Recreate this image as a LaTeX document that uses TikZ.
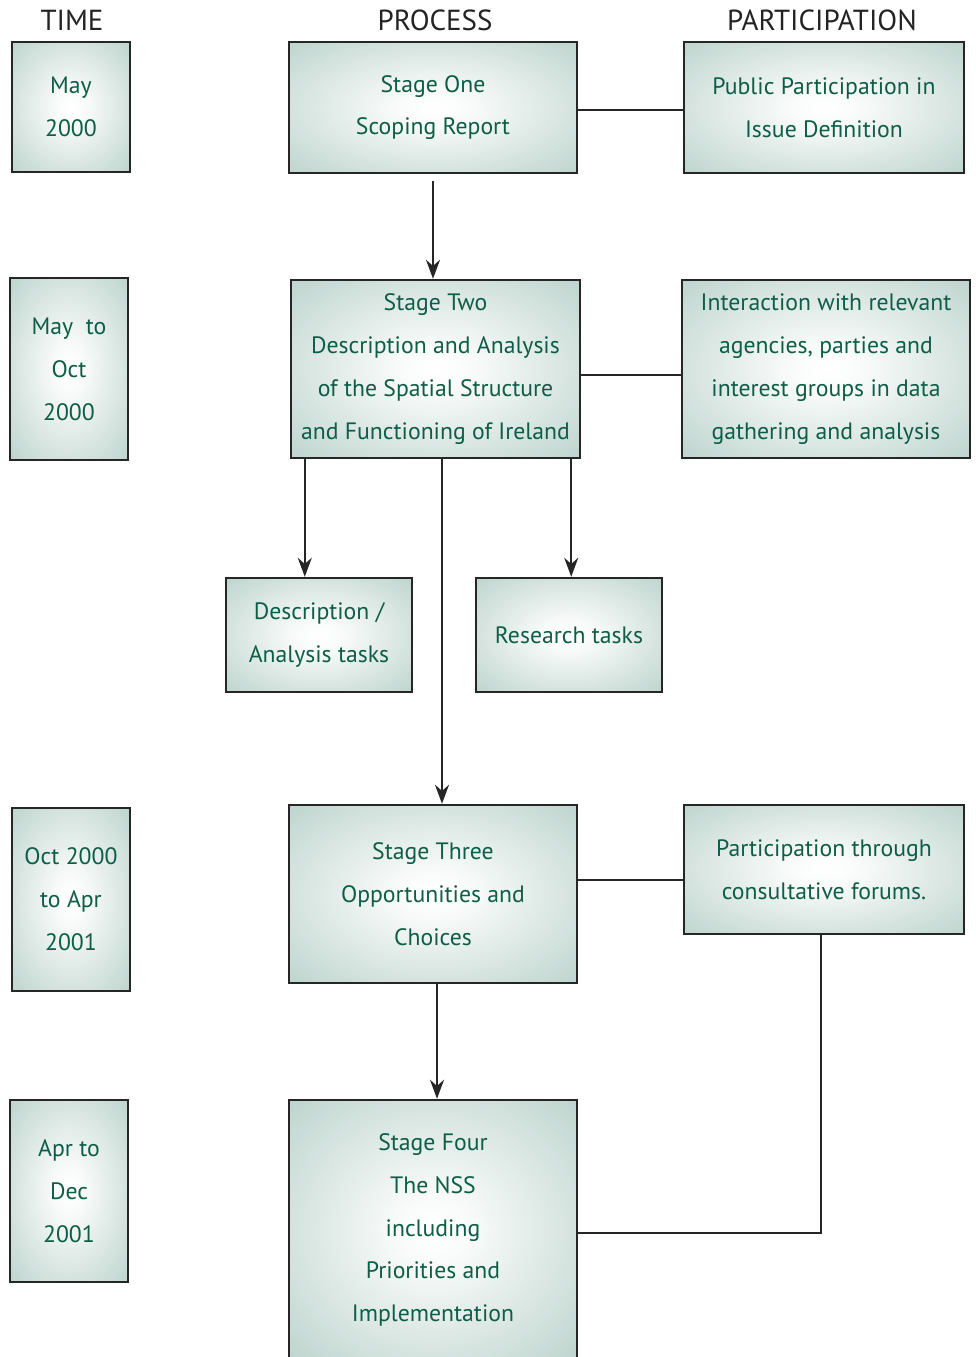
\documentclass[tikz,border=0pt]{standalone}
\usepackage{fontspec}
\setmainfont{PT Sans}
\usetikzlibrary{arrows.meta, positioning, calc}
\definecolor{boxgreen}{RGB}{185,209,202}
\definecolor{textgreen}{RGB}{14,94,70}
\definecolor{headgrey}{RGB}{35,35,35}
\pgfdeclareradialshading{glow}{\pgfpoint{0bp}{0bp}}{color(0bp)=(white); color(6bp)=(white!92!boxgreen); color(38bp)=(boxgreen); color(50bp)=(boxgreen)}

\begin{document}
\begin{tikzpicture}[x=0.02cm, y=-0.02cm,
  box/.style={draw=black!85, line width=1.4pt, shade, shading=glow,
    inner sep=0pt, align=center, text=textgreen, font=\fontsize{13.5}{24.4}\selectfont},
  boxsize/.style 2 args={minimum width=#1*0.02cm, minimum height=#2*0.02cm},
  head/.style={text=headgrey, font=\fontsize{16.5}{18}\selectfont},
  link/.style={line width=1.2pt, draw=black!85},
  arr/.style={link, -{Stealth[length=3.8mm, width=2.8mm]}}]
  \useasboundingbox (0,0) rectangle (975,1357);
  \clip (0,0) rectangle (975,1357);

  % column heads
  \node[head] (htime) at (72,20) {TIME};
  \node[head] (hproc) at (435,20) {PROCESS};
  \node[head] (hpart) at (822,20) {PARTICIPATION};

  % time column
  \node[box, boxsize={118}{130}] (t1) at (71,107) {May\\2000};
  \node[box, boxsize={118}{182}] (t2) at (69,369) {May\ \ to\\Oct\\2000};
  \node[box, boxsize={118}{183}] (t3) at (71,899.5) {Oct 2000\\to Apr\\2001};
  \node[box, boxsize={118}{182}] (t4) at (69,1191) {Apr to\\Dec\\2001};

  % process column
  \node[box, boxsize={288}{131}] (one) at (433,107.5) {Stage One\\Scoping Report};
  \node[box, boxsize={289}{178}] (two) at (435.5,369) {Stage Two\\Description and Analysis\\of the Spatial Structure\\and Functioning of Ireland};
  \node[box, boxsize={186}{114}] (desc) at (319,635) {Description /\\Analysis tasks};
  \node[box, boxsize={186}{114}] (res) at (569,635) {Research tasks};
  \node[box, boxsize={288}{178}] (three) at (433,894) {Stage Three\\Opportunities and\\Choices};
  \node[box, boxsize={288}{260}] (four) at (433,1230) {Stage Four\\The NSS\\including\\Priorities and\\Implementation};

  % participation column
  \node[box, boxsize={280}{131}] (pone) at (824,107.5) {Public Participation in\\Issue Definition};
  \node[box, boxsize={288}{178}] (ptwo) at (826,369) {Interaction with relevant\\agencies, parties and\\interest groups in data\\gathering and analysis};
  \node[box, boxsize={280}{129}] (pthree) at (824,869.5) {Participation through\\consultative forums.};

  % connectors
  \draw[link] ([yshift=-0.05cm]one.east) -- ([yshift=-0.05cm]one.east -| pone.west);
  \draw[arr, shorten <=0.14cm] (one.south) -- (one.south |- two.north);
  \draw[link] ([yshift=-0.12cm]two.east) -- ([yshift=-0.12cm]two.east -| ptwo.west);
  \draw[arr] ([xshift=0.3cm]two.south west) -- ([xshift=0.3cm]two.south west |- desc.north);
  \draw[arr] ([xshift=-0.2cm]two.south east) -- ([xshift=-0.2cm]two.south east |- res.north);
  \draw[arr] ([xshift=0.13cm]two.south) -- ([xshift=0.13cm]two.south |- three.north);
  \draw[link] ([yshift=-0.21cm]pthree.west) -- ([yshift=-0.21cm]pthree.west -| three.east);
  \draw[arr] ([xshift=0.08cm]three.south) -- ([xshift=0.08cm]three.south |- four.north);
  \draw[link] ([xshift=-0.06cm]pthree.south) |- ([yshift=-0.06cm]four.east);
\end{tikzpicture}
\end{document}
